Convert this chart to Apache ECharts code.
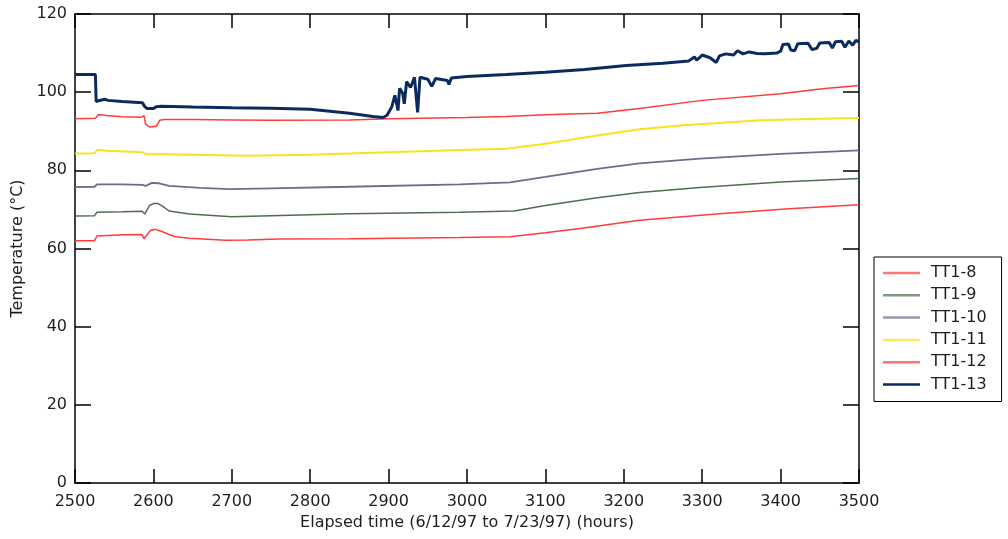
<!DOCTYPE html>
<html>
<head>
<meta charset="utf-8">
<script src="https://cdn.jsdelivr.net/npm/echarts@6/dist/echarts.min.js"></script>
<style>
html,body{margin:0;padding:0;background:#fff;}
#chart{width:1008px;height:539px;}
</style>
</head>
<body>
<div id="chart"></div>
<script>
// Series data: [elapsed hours, temperature °C]
const seriesNames = ['TT1-8', 'TT1-9', 'TT1-10', 'TT1-11', 'TT1-12', 'TT1-13'];
const xTicks = [2500, 2600, 2700, 2800, 2900, 3000, 3100, 3200, 3300, 3400, 3500];
const yTicks = [0, 20, 40, 60, 80, 100, 120];

const tt1_8 = [[2500,62.0],[2525,62.0],[2528,63.2],[2560,63.5],[2585,63.6],[2588,62.5],[2592,63.5],[2596,64.6],[2602,64.9],[2610,64.4],[2620,63.6],[2628,63.0],[2646,62.6],[2692,62.1],[2720,62.2],[2760,62.4],[2850,62.5],[2991,62.8],[3055,63.0],[3100,64.0],[3144,65.1],[3220,67.2],[3322,68.9],[3411,70.2],[3500,71.2]];
const tt1_9 = [[2500,68.3],[2525,68.4],[2528,69.3],[2560,69.4],[2586,69.5],[2589,68.8],[2595,71.0],[2600,71.5],[2606,71.5],[2612,70.8],[2620,69.6],[2646,68.8],[2700,68.1],[2750,68.4],[2850,68.9],[2991,69.3],[3060,69.6],[3100,71.0],[3166,73.0],[3220,74.3],[3297,75.6],[3400,77.0],[3500,77.9]];
const tt1_10 = [[2500,75.7],[2525,75.8],[2528,76.4],[2560,76.4],[2586,76.3],[2590,76.0],[2598,76.8],[2606,76.7],[2620,76.0],[2660,75.5],[2697,75.2],[2750,75.4],[2850,75.8],[2991,76.4],[3055,76.9],[3100,78.3],[3166,80.4],[3220,81.8],[3297,83.0],[3400,84.2],[3500,85.1]];
const tt1_11 = [[2500,84.3],[2525,84.4],[2529,85.3],[2540,85.0],[2586,84.6],[2590,84.2],[2650,84.0],[2720,83.7],[2800,84.0],[2900,84.6],[2991,85.2],[3050,85.5],[3100,86.8],[3166,88.9],[3220,90.5],[3272,91.5],[3374,92.8],[3450,93.2],[3500,93.4]];
const tt1_12 = [[2500,93.2],[2526,93.3],[2530,94.3],[2540,94.0],[2560,93.7],[2585,93.6],[2588,94.0],[2590,91.8],[2595,91.1],[2604,91.3],[2608,92.8],[2614,93.0],[2650,93.0],[2700,92.9],[2750,92.8],[2850,92.9],[2900,93.2],[3000,93.5],[3050,93.8],[3100,94.2],[3166,94.6],[3220,95.8],[3300,97.9],[3400,99.6],[3450,100.8],[3500,101.7]];
const tt1_13 = [[2500,104.5],[2526,104.5],[2527,97.6],[2530,97.8],[2538,98.2],[2542,97.9],[2560,97.6],[2586,97.3],[2589,96.3],[2592,95.8],[2600,95.8],[2604,96.3],[2610,96.4],[2650,96.2],[2700,96.0],[2750,95.9],[2800,95.6],[2850,94.6],[2880,93.8],[2893,93.5],[2898,94.1],[2904,96.2],[2908,99.2],[2912,95.3],[2914,101.0],[2918,99.7],[2920,97.0],[2923,102.7],[2928,101.2],[2933,103.8],[2937,94.8],[2940,103.8],[2950,103.3],[2955,101.5],[2960,103.5],[2975,103.0],[2977,102.0],[2980,103.6],[3000,104.0],[3050,104.5],[3100,105.1],[3150,105.8],[3203,106.8],[3250,107.4],[3283,108.0],[3290,109.0],[3293,108.2],[3300,109.5],[3310,108.8],[3318,107.6],[3322,109.3],[3330,109.8],[3340,109.5],[3345,110.6],[3352,109.8],[3360,110.3],[3370,109.9],[3380,109.8],[3395,110.0],[3400,110.5],[3403,112.2],[3410,112.3],[3413,110.8],[3418,110.6],[3422,112.4],[3435,112.5],[3440,110.9],[3446,111.2],[3450,112.6],[3462,112.7],[3466,111.3],[3470,112.9],[3478,113.0],[3482,111.5],[3487,113.1],[3492,112.0],[3496,113.3],[3500,112.8]];

const seriesData = [tt1_8, tt1_9, tt1_10, tt1_11, tt1_12, tt1_13];
const seriesColors = ['#ff3b3b', '#4e6e4e', '#6c6c8c', '#f7e21c', '#ff3b3b', '#0b2a5e'];
const seriesWidths = [1.5, 1.5, 1.8, 2, 1.5, 3];

const FONT = 'DejaVu Sans';
const TXT = '#1e1e1e';
const lineStyle = {color: '#000', width: 1.5};

const chart = echarts.init(document.getElementById('chart'), null, {renderer: 'canvas'});

const option = {
  animation: false,
  backgroundColor: '#fff',
  grid: {left: 75, top: 14, width: 784, height: 469, containLabel: false},
  legend: {
    orient: 'vertical',
    left: 874,
    top: 257,
    data: seriesNames.map((n, i) => ({name: n, icon: 'rect', itemStyle: {color: seriesColors[i], opacity: i === 5 ? 1 : 0.7}})),
    itemWidth: 37,
    itemHeight: 2.5,
    itemGap: 6.3,
    borderColor: '#000',
    borderWidth: 1,
    padding: [8, 15, 9, 9],
    textStyle: {fontFamily: FONT, fontSize: 16, color: TXT, padding: [0, 0, 0, 6]}
  },
  xAxis: [{
    type: 'value', min: 2500, max: 3500, interval: 100, position: 'bottom',
    axisLine: {show: true, onZero: false, lineStyle: lineStyle},
    axisTick: {show: true, inside: true, length: 14, lineStyle: lineStyle},
    axisLabel: {show: true, margin: 11, fontFamily: FONT, fontSize: 16, color: TXT,
      customValues: xTicks, formatter: v => String(v)},
    splitLine: {show: false},
    name: 'Elapsed time (6/12/97 to 7/23/97) (hours)',
    nameLocation: 'middle', nameGap: 31,
    nameTextStyle: {fontFamily: FONT, fontSize: 16, color: TXT}
  }, {
    type: 'value', min: 2500, max: 3500, interval: 100, position: 'top',
    axisLine: {show: true, onZero: false, lineStyle: lineStyle},
    axisTick: {show: true, inside: true, length: 14, lineStyle: lineStyle},
    axisLabel: {show: false},
    splitLine: {show: false}
  }],
  yAxis: [{
    type: 'value', min: 0, max: 120, interval: 20, position: 'left',
    axisLine: {show: true, onZero: false, lineStyle: lineStyle},
    axisTick: {show: true, inside: true, length: 16, lineStyle: lineStyle},
    axisLabel: {show: true, margin: 8, fontFamily: FONT, fontSize: 16, color: TXT,
      customValues: yTicks, formatter: v => String(v)},
    splitLine: {show: false},
    name: 'Temperature (°C)',
    nameLocation: 'middle', nameGap: 46, nameRotate: 90,
    nameTextStyle: {fontFamily: FONT, fontSize: 16, color: TXT}
  }, {
    type: 'value', min: 0, max: 120, interval: 20, position: 'right',
    axisLine: {show: true, onZero: false, lineStyle: lineStyle},
    axisTick: {show: true, inside: true, length: 16, lineStyle: lineStyle},
    axisLabel: {show: false},
    splitLine: {show: false}
  }],
  series: seriesNames.map((name, i) => ({
    name: name,
    type: 'line',
    xAxisIndex: 0,
    yAxisIndex: 0,
    data: seriesData[i],
    symbol: 'none',
    showSymbol: false,
    smooth: false,
    color: seriesColors[i],
    lineStyle: {color: seriesColors[i], width: seriesWidths[i]},
    itemStyle: {color: seriesColors[i]},
    z: i === 5 ? 3 : 2
  }))
};
chart.setOption(option);
</script>
</body>
</html>
